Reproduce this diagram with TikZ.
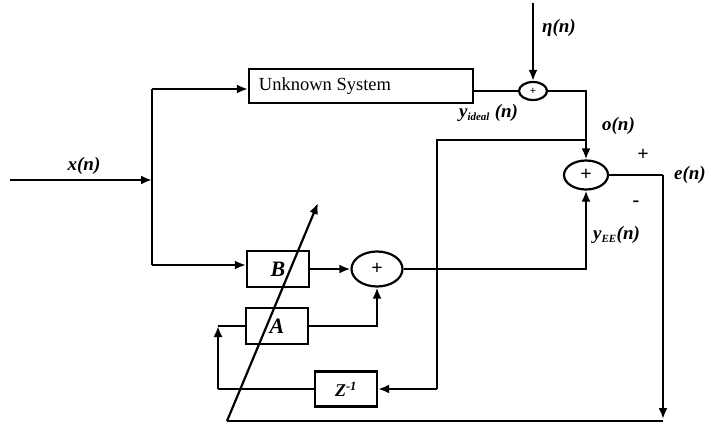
\documentclass[tikz,border=0pt]{standalone}
\usepackage{fontspec}
\setmainfont{Liberation Serif}
\usetikzlibrary{arrows.meta,shapes.geometric}
\begin{document}
\begin{tikzpicture}[x=1pt,y=-1pt,
  line width=2.2pt,
  tip/.style={-{Latex[length=11pt,width=9pt]}},
  blk/.style={draw,rectangle,inner sep=0pt,font=\fontsize{22}{24}\selectfont\bfseries\itshape},
  summ/.style={draw,ellipse,inner sep=0pt,font=\fontsize{20}{22}\selectfont\bfseries},
  lbl/.style={font=\fontsize{19}{21}\selectfont\bfseries\itshape,inner sep=0pt}]
\useasboundingbox (0,0) rectangle (719,425);
% blocks
\node[draw,rectangle,inner sep=0pt,minimum width=224pt,minimum height=34pt,font=\fontsize{18.5}{20}\selectfont] (sys) at (361,86) {\hspace*{-72pt}Unknown System};
\node[summ,minimum width=28pt,minimum height=18pt,font=\fontsize{11}{12}\selectfont\bfseries] (s1) at (533,91) {\raisebox{-3pt}{+}};
\node[summ,minimum width=44pt,minimum height=29pt] (s2) at (586,175) {+};
\node[summ,minimum width=51pt,minimum height=35pt] (s3) at (377,269) {+};
\node[blk,minimum width=62pt,minimum height=36pt] (B) at (278,269) {B};
\node[blk,minimum width=62pt,minimum height=36pt] (A) at (277,326) {A};
\node[blk,minimum width=62pt,minimum height=35pt,font=\fontsize{18}{20}\selectfont\bfseries\itshape] (Z) at (346,389) {Z\textsuperscript{-1}};
% coordinates
\coordinate (in) at (10,180);
\coordinate (j1) at (152,180);
\coordinate (jt) at (152,89);
\coordinate (jb) at (152,265);
\coordinate (eta) at (533,3);
\coordinate (oj) at (586,140);
\coordinate (zc) at (437,140);
\coordinate (ec) at (663,175);
\coordinate (eb) at (663,419);
\coordinate (bl) at (227,421);
\coordinate (tipd) at (318,203);
\coordinate (ac) at (218,389);
\coordinate (at) at (218,326);
% connectors
\draw[tip] (in) -- (j1);
\draw (jt) -- (jb);
\draw[tip] (jt) -- (sys.west|-jt);
\draw[tip] (jb) -- (B.west|-jb);
\draw[tip] (eta) -- (s1.north);
\draw (sys.east|-s1.west) -- (s1.west);
\draw[tip] (s1.east) -| (s2.north);
\draw (oj) -- (zc) -- (437,389) coordinate (zr);
\draw[tip] (zr) -- (Z.east);
\draw (Z.west) -- (ac);
\draw[tip] (ac) -- (at);
\draw (A.west) -- (at);
\draw[tip] (A.east) -| (s3.south);
\draw[tip] (B.east) -- (s3.west);
\draw[tip] (s3.east) -| (s2.south);
\draw (s2.east) -- (ec);
\draw[tip] (ec) -- (eb);
\draw (663,421) -- (bl);
\draw[tip] (bl) -- (tipd);
% labels
\node[lbl] at (84,166) {x(n)};
\node[lbl,anchor=west] at (541,28) {η(n)};
\node[lbl,anchor=west] at (458,113) {y\textsubscript{\fontsize{11}{12}\selectfont ideal} (n)};
\node[lbl,anchor=west] at (601,126) {o(n)};
\node[font=\fontsize{20}{22}\selectfont\bfseries] at (643,155) {+};
\node[lbl,anchor=west] at (673,175) {e(n)};
\node[font=\fontsize{20}{22}\selectfont\bfseries] at (636,204) {-};
\node[lbl,anchor=west] at (592,235) {y\textsubscript{\fontsize{11}{12}\selectfont EE}(n)};
\end{tikzpicture}
\end{document}
